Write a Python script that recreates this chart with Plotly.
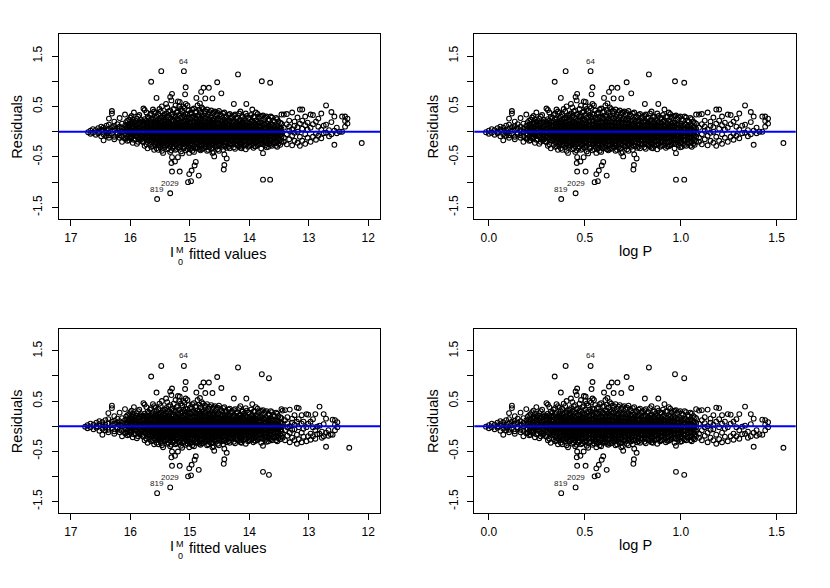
import plotly.graph_objects as go

# ---------------- data ----------------
# dense band, binned in log P columns; residuals shared by both model rows
core_logp = [-0.015, 0.000, 0.015, 0.030, 0.045, 0.060, 0.075, 0.090, 0.105, 0.120,
             0.135, 0.150, 0.165, 0.180, 0.195, 0.210, 0.225, 0.240, 0.255, 0.270,
             0.285, 0.300, 0.315, 0.330, 0.345, 0.360, 0.375, 0.390, 0.405, 0.420,
             0.435, 0.450, 0.465, 0.480, 0.495, 0.510, 0.525, 0.540, 0.555, 0.570,
             0.585, 0.600, 0.615, 0.630, 0.645, 0.660, 0.675, 0.690, 0.705, 0.720,
             0.735, 0.750, 0.765, 0.780, 0.795, 0.810, 0.825, 0.840, 0.855, 0.870,
             0.885, 0.900, 0.915, 0.930, 0.945, 0.960, 0.975, 0.990, 1.005, 1.020,
             1.035, 1.050, 1.065, 1.080]
core_fit_top = [16.71, 16.67, 16.63, 16.58, 16.54, 16.49, 16.45, 16.40, 16.36, 16.31,
                16.27, 16.22, 16.18, 16.14, 16.09, 16.05, 16.00, 15.96, 15.91, 15.87,
                15.82, 15.78, 15.73, 15.69, 15.65, 15.60, 15.56, 15.51, 15.47, 15.42,
                15.38, 15.33, 15.29, 15.24, 15.20, 15.15, 15.11, 15.07, 15.02, 14.98,
                14.93, 14.89, 14.84, 14.80, 14.75, 14.71, 14.67, 14.62, 14.58, 14.53,
                14.49, 14.44, 14.40, 14.35, 14.31, 14.26, 14.22, 14.17, 14.13, 14.09,
                14.04, 14.00, 13.95, 13.91, 13.86, 13.82, 13.77, 13.73, 13.68, 13.64,
                13.60, 13.55, 13.51, 13.46]
core_fit_bot = [16.76, 16.72, 16.67, 16.62, 16.57, 16.52, 16.47, 16.42, 16.37, 16.31,
                16.27, 16.22, 16.18, 16.14, 16.09, 16.05, 16.00, 15.96, 15.91, 15.87,
                15.82, 15.78, 15.73, 15.69, 15.65, 15.60, 15.56, 15.51, 15.47, 15.42,
                15.38, 15.33, 15.29, 15.24, 15.20, 15.15, 15.11, 15.07, 15.02, 14.98,
                14.93, 14.89, 14.84, 14.80, 14.75, 14.71, 14.67, 14.62, 14.58, 14.53,
                14.49, 14.44, 14.40, 14.35, 14.31, 14.26, 14.22, 14.17, 14.13, 14.09,
                14.04, 14.00, 13.95, 13.91, 13.86, 13.82, 13.77, 13.73, 13.68, 13.64,
                13.60, 13.55, 13.51, 13.46]
core_res = [
    [-0.01],
    [0.02, -0.04],
    [0.05, -0.02],
    [-0.06, 0.03],
    [0.07, -0.03, 0.0],
    [-0.09, 0.04, 0.10],
    [-0.17, 0.02, -0.05, 0.08],
    [0.12, -0.08, 0.03, -0.02],
    [0.26, 0.06, -0.07, 0.14, -0.12],
    [0.41, 0.36, 0.09, -0.04, 0.02],
    [0.20, -0.10, 0.05, -0.15, 0.11],
    [0.07, -0.05, 0.15, -0.02],
    [0.27, -0.12, 0.03, 0.10, -0.07],
    [0.16, -0.20, 0.0, 0.06, -0.09],
    [0.34, 0.12, -0.04, -0.14, 0.05],
    [0.22, -0.10, 0.08, 0.0, -0.18, 0.14],
    [0.28, 0.04, -0.08, 0.16, -0.03, -0.13],
    [0.18, -0.22, 0.10, 0.02, -0.06, 0.25],
    [0.12, -0.15, 0.05, -0.02, 0.21, -0.09],
    [0.30, 0.08, -0.12, 0.15, -0.20, 0.01],
    [0.24, -0.05, 0.10, -0.16, 0.03, 0.18, -0.10],
    [0.46, 0.20, 0.0, -0.09, 0.12, -0.21, 0.06],
    [0.38, 0.14, -0.04, 0.08, -0.14, 0.22, -0.25, 0.02],
    [0.10, -0.18, 0.18, 0.04, -0.07, 0.27, -0.12, -0.02],
    [0.36, 0.16, -0.10, 0.06, -0.20, 0.01, 0.24, -0.05, -0.30],
    [0.40, 0.20, 0.10, -0.15, 0.03, -0.07, 0.15, -0.24, 0.0, -0.36],
    [0.30, 0.21, 0.12, 0.06, 0.01, -0.04, -0.09, -0.15, -0.22, -0.33, 0.17],
    [0.45, 0.25, 0.15, 0.08, 0.02, -0.03, -0.08, -0.13, -0.19, -0.27, 0.11],
    [0.50, 0.28, 0.18, 0.10, 0.04, -0.01, -0.06, -0.11, -0.17, -0.24, -0.38],
    [0.33, 0.20, 0.13, 0.07, 0.0, -0.05, -0.10, -0.16, -0.22, -0.30, 0.03],
    [0.48, 0.30, 0.19, 0.11, 0.05, -0.02, -0.07, -0.12, -0.18, -0.26, -0.35, 0.15],
    [0.42, 0.26, 0.16, 0.09, 0.03, -0.03, -0.08, -0.14, -0.21, -0.29, -0.40],
    [0.35, 0.23, 0.14, 0.07, 0.01, -0.04, -0.10, -0.16, -0.23, -0.32, 0.10, -0.01],
    [0.52, 0.30, 0.20, 0.12, 0.05, 0.0, -0.06, -0.11, -0.18, -0.25, -0.36],
    [0.60, 0.40, 0.24, 0.15, 0.08, 0.02, -0.03, -0.09, -0.15, -0.22, -0.31, 0.11],
    [0.45, 0.28, 0.18, 0.10, 0.04, -0.02, -0.07, -0.13, -0.20, -0.28, -0.39],
    [0.50, 0.33, 0.21, 0.13, 0.06, 0.0, -0.05, -0.10, -0.17, -0.24, -0.33, 0.09],
    [0.55, 0.35, 0.23, 0.14, 0.07, 0.01, -0.05, -0.11, -0.18, -0.26, -0.37],
    [0.42, 0.27, 0.17, 0.10, 0.03, -0.03, -0.08, -0.14, -0.21, -0.30, 0.12],
    [0.38, 0.25, 0.16, 0.09, 0.02, -0.04, -0.10, -0.16, -0.23, -0.32, 0.06],
    [0.46, 0.29, 0.19, 0.11, 0.04, -0.02, -0.08, -0.14, -0.20, -0.28, -0.40],
    [0.40, 0.26, 0.17, 0.09, 0.03, -0.03, -0.09, -0.15, -0.22, -0.30, 0.13],
    [0.43, 0.30, 0.20, 0.12, 0.05, -0.01, -0.07, -0.13, -0.19, -0.27, -0.35],
    [0.48, 0.32, 0.21, 0.13, 0.06, 0.0, -0.06, -0.12, -0.18, -0.25, -0.34],
    [0.41, 0.27, 0.18, 0.10, 0.04, -0.02, -0.08, -0.14, -0.20, -0.29, 0.14],
    [0.44, 0.29, 0.19, 0.11, 0.04, -0.02, -0.08, -0.13, -0.19, -0.26, -0.38],
    [0.39, 0.25, 0.16, 0.09, 0.02, -0.03, -0.09, -0.15, -0.22, -0.31, 0.12],
    [0.36, 0.24, 0.15, 0.08, 0.02, -0.04, -0.10, -0.16, -0.23, -0.33, -0.42],
    [0.40, 0.26, 0.17, 0.10, 0.03, -0.03, -0.09, -0.14, -0.20, -0.28],
    [0.37, 0.24, 0.15, 0.08, 0.02, -0.04, -0.10, -0.16, -0.24, -0.35],
    [0.34, 0.22, 0.14, 0.07, 0.01, -0.05, -0.11, -0.17, -0.25, 0.10],
    [0.36, 0.23, 0.14, 0.07, 0.01, -0.05, -0.11, -0.18, -0.27, -0.36],
    [0.30, 0.20, 0.12, 0.06, 0.0, -0.06, -0.12, -0.19, -0.28, 0.09],
    [0.33, 0.21, 0.13, 0.06, 0.0, -0.06, -0.13, -0.21, -0.30],
    [0.28, 0.18, 0.10, 0.04, -0.02, -0.08, -0.15, -0.24, 0.07],
    [0.32, 0.20, 0.11, 0.05, -0.01, -0.07, -0.14, -0.22, -0.31],
    [0.26, 0.16, 0.09, 0.03, -0.03, -0.09, -0.16, -0.25, 0.12],
    [0.36, 0.22, 0.12, 0.05, -0.01, -0.07, -0.13, -0.20, -0.29],
    [0.29, 0.18, 0.10, 0.04, -0.02, -0.08, -0.15, -0.23, -0.33],
    [0.25, 0.15, 0.08, 0.02, -0.04, -0.10, -0.17, -0.26, 0.11],
    [0.31, 0.19, 0.10, 0.03, -0.03, -0.09, -0.16, -0.24],
    [0.27, 0.16, 0.08, 0.02, -0.04, -0.11, -0.19, -0.28, 0.12],
    [0.44, 0.22, 0.12, 0.05, -0.01, -0.07, -0.14, -0.22],
    [0.30, 0.17, 0.09, 0.02, -0.05, -0.12, -0.20, -0.29],
    [0.35, 0.20, 0.10, 0.03, -0.03, -0.10, -0.18, -0.27],
    [0.30, 0.18, 0.08, 0.01, -0.06, -0.14, -0.23, 0.12],
    [0.32, 0.16, 0.07, 0.0, -0.07, -0.15, -0.25],
    [0.28, 0.14, 0.06, -0.01, -0.08, -0.17, -0.27],
    [0.25, 0.12, 0.04, -0.03, -0.10, -0.20, -0.30],
    [0.30, 0.15, 0.06, -0.02, -0.09, -0.18, -0.26],
    [0.22, 0.11, 0.03, -0.04, -0.12, -0.22],
    [0.27, 0.13, 0.05, -0.02, -0.10, -0.19, -0.28],
    [0.20, 0.09, 0.01, -0.06, -0.14, -0.24],
    [0.34, 0.16, 0.06, -0.02, -0.10, -0.20],
]

# second set of band columns, lying between the first ones (same in both models)
core2_logp = [0.2025, 0.2175, 0.2325, 0.2475, 0.2625, 0.2775, 0.2925, 0.3075, 0.3225, 0.3375,
              0.3525, 0.3675, 0.3825, 0.3975, 0.4125, 0.4275, 0.4425, 0.4575, 0.4725, 0.4875,
              0.5025, 0.5175, 0.5325, 0.5475, 0.5625, 0.5775, 0.5925, 0.6075, 0.6225, 0.6375,
              0.6525, 0.6675, 0.6825, 0.6975, 0.7125, 0.7275, 0.7425, 0.7575, 0.7725, 0.7875,
              0.8025, 0.8175, 0.8325, 0.8475, 0.8625, 0.8775, 0.8925, 0.9075, 0.9225, 0.9375,
              0.9525, 0.9675, 0.9825, 0.9975, 1.0125, 1.0275, 1.0425, 1.0575, 1.0725]
core2_fit = [16.07, 16.02, 15.98, 15.94, 15.89, 15.85, 15.80, 15.76, 15.71, 15.67,
             15.62, 15.58, 15.53, 15.49, 15.45, 15.40, 15.36, 15.31, 15.27, 15.22,
             15.18, 15.13, 15.09, 15.04, 15.00, 14.96, 14.91, 14.87, 14.82, 14.78,
             14.73, 14.69, 14.64, 14.60, 14.55, 14.51, 14.46, 14.42, 14.38, 14.33,
             14.29, 14.24, 14.20, 14.15, 14.11, 14.06, 14.02, 13.97, 13.93, 13.89,
             13.84, 13.80, 13.75, 13.71, 13.66, 13.62, 13.57, 13.53, 13.48]
core2_res = [
    [0.19, -0.06, 0.07, -0.13, 0.02],
    [0.10, -0.17, 0.24, -0.01, 0.13],
    [0.31, 0.07, -0.11, 0.0, 0.15, -0.05],
    [0.14, -0.03, 0.20, -0.16, 0.06, 0.38],
    [0.26, 0.04, -0.07, 0.11, -0.24, 0.17],
    [0.09, -0.14, 0.19, -0.04, 0.02, 0.33],
    [0.21, 0.13, -0.08, 0.05, -0.19, -0.01],
    [0.43, 0.16, 0.07, -0.03, -0.12, -0.28, 0.25],
    [0.29, 0.11, 0.02, -0.06, -0.17, 0.19, -0.33],
    [0.21, 0.13, 0.05, -0.01, -0.09, -0.16, -0.26, 0.33],
    [0.44, 0.26, 0.12, 0.04, -0.03, -0.11, -0.19, -0.29],
    [0.37, 0.18, 0.09, 0.02, -0.05, -0.12, -0.20, -0.27, 0.25],
    [0.35, 0.24, 0.165, 0.095, 0.035, -0.015, -0.065, -0.12, -0.185, -0.26, -0.36],
    [0.40, 0.27, 0.19, 0.125, 0.055, 0.005, -0.045, -0.10, -0.165, -0.24, -0.31],
    [0.32, 0.22, 0.155, 0.085, 0.025, -0.025, -0.075, -0.13, -0.195, -0.27, -0.42],
    [0.55, 0.36, 0.25, 0.165, 0.095, 0.035, -0.015, -0.065, -0.125, -0.20, -0.28],
    [0.40, 0.28, 0.20, 0.135, 0.07, 0.015, -0.035, -0.09, -0.155, -0.23, -0.33],
    [0.62, 0.34, 0.21, 0.125, 0.055, -0.005, -0.055, -0.11, -0.175, -0.25, -0.37],
    [0.45, 0.31, 0.22, 0.145, 0.08, 0.025, -0.025, -0.08, -0.14, -0.21, -0.30],
    [0.38, 0.26, 0.175, 0.105, 0.045, -0.005, -0.055, -0.115, -0.18, -0.26, -0.34],
    [0.50, 0.33, 0.23, 0.155, 0.085, 0.025, -0.025, -0.085, -0.15, -0.22, -0.32],
    [0.41, 0.29, 0.195, 0.125, 0.06, 0.005, -0.045, -0.10, -0.165, -0.24, -0.43],
    [0.47, 0.30, 0.205, 0.135, 0.065, 0.015, -0.035, -0.09, -0.155, -0.23, -0.31],
    [0.52, 0.34, 0.22, 0.14, 0.07, 0.015, -0.04, -0.095, -0.16, -0.235, -0.345],
    [0.36, 0.25, 0.17, 0.105, 0.04, -0.01, -0.06, -0.12, -0.185, -0.26, -0.35],
    [0.44, 0.28, 0.185, 0.115, 0.05, -0.005, -0.055, -0.11, -0.175, -0.25, -0.38],
    [0.39, 0.27, 0.18, 0.11, 0.045, -0.01, -0.06, -0.115, -0.18, -0.255, -0.33],
    [0.52, 0.31, 0.205, 0.13, 0.065, 0.01, -0.045, -0.10, -0.16, -0.235, -0.32],
    [0.37, 0.26, 0.175, 0.105, 0.04, -0.015, -0.065, -0.12, -0.185, -0.26, -0.37],
    [0.45, 0.29, 0.19, 0.12, 0.055, 0.0, -0.05, -0.105, -0.17, -0.245, -0.34],
    [0.40, 0.27, 0.18, 0.11, 0.045, -0.01, -0.06, -0.115, -0.18, -0.25, -0.31],
    [0.34, 0.24, 0.165, 0.10, 0.035, -0.015, -0.065, -0.125, -0.19, -0.27, -0.36],
    [0.42, 0.28, 0.185, 0.115, 0.05, -0.005, -0.055, -0.11, -0.175, -0.25, -0.34],
    [0.38, 0.25, 0.17, 0.10, 0.04, -0.01, -0.065, -0.125, -0.19, -0.27, -0.40],
    [0.35, 0.23, 0.155, 0.09, 0.03, -0.02, -0.075, -0.13, -0.20, -0.29],
    [0.41, 0.26, 0.17, 0.10, 0.04, -0.015, -0.07, -0.13, -0.195, -0.27, -0.38],
    [0.31, 0.21, 0.14, 0.08, 0.02, -0.03, -0.085, -0.145, -0.215, -0.30],
    [0.38, 0.24, 0.155, 0.09, 0.03, -0.025, -0.08, -0.14, -0.205, -0.28, -0.45],
    [0.29, 0.20, 0.13, 0.07, 0.015, -0.035, -0.09, -0.15, -0.22, -0.32],
    [0.35, 0.22, 0.14, 0.075, 0.015, -0.04, -0.10, -0.165, -0.24, -0.33],
    [0.30, 0.19, 0.12, 0.06, 0.005, -0.05, -0.11, -0.175, -0.25],
    [0.34, 0.21, 0.13, 0.065, 0.01, -0.045, -0.105, -0.17, -0.24, -0.34],
    [0.28, 0.18, 0.11, 0.05, -0.005, -0.06, -0.12, -0.19, -0.27],
    [0.40, 0.23, 0.14, 0.07, 0.01, -0.045, -0.10, -0.165, -0.235, -0.32],
    [0.30, 0.19, 0.115, 0.05, -0.01, -0.065, -0.125, -0.195, -0.28],
    [0.36, 0.21, 0.125, 0.06, 0.0, -0.055, -0.115, -0.18, -0.26, -0.35],
    [0.27, 0.17, 0.10, 0.04, -0.015, -0.07, -0.135, -0.21, -0.30],
    [0.33, 0.20, 0.12, 0.055, -0.005, -0.06, -0.12, -0.19, -0.27],
    [0.29, 0.18, 0.105, 0.04, -0.02, -0.08, -0.15, -0.23, -0.32],
    [0.38, 0.22, 0.13, 0.06, 0.0, -0.06, -0.13, -0.21, -0.29],
    [0.27, 0.16, 0.09, 0.025, -0.035, -0.10, -0.17, -0.25],
    [0.31, 0.18, 0.10, 0.03, -0.03, -0.09, -0.16, -0.24, -0.33],
    [0.26, 0.14, 0.065, 0.0, -0.065, -0.135, -0.21],
    [0.30, 0.16, 0.075, 0.005, -0.06, -0.13, -0.22, -0.31],
    [0.23, 0.12, 0.045, -0.02, -0.09, -0.16, -0.24],
    [0.28, 0.14, 0.05, -0.015, -0.085, -0.17, -0.28],
    [0.20, 0.10, 0.025, -0.05, -0.13, -0.22],
    [0.25, 0.11, 0.035, -0.035, -0.11, -0.20, -0.30],
    [0.18, 0.08, 0.0, -0.07, -0.16, -0.26],
]

# long-period tail, where the two models differ
tail_logp = [1.095, 1.110, 1.125, 1.140, 1.155, 1.170, 1.185, 1.200, 1.215, 1.230,
             1.245, 1.260, 1.275, 1.290, 1.305, 1.320, 1.335, 1.350, 1.365, 1.380,
             1.395, 1.410, 1.425, 1.440, 1.455]
tail_fit_top = [13.42, 13.37, 13.33, 13.28, 13.24, 13.19, 13.15, 13.11, 13.06, 13.02,
                12.97, 12.93, 12.88, 12.84, 12.79, 12.75, 12.71, 12.66, 12.62, 12.57,
                12.53, 12.48, 12.44, 12.39, 12.35]
tail_fit_bot = [13.44, 13.40, 13.36, 13.32, 13.28, 13.24, 13.20, 13.17, 13.12, 13.09,
                13.04, 13.01, 12.97, 12.93, 12.89, 12.86, 12.82, 12.78, 12.75, 12.71,
                12.67, 12.63, 12.60, 12.56, 12.52]
tail_res_top = [
    [0.34, 0.08, -0.12, -0.20], [0.35, 0.15, -0.05, -0.25], [0.22, 0.02, -0.15, 0.10],
    [0.38, -0.27, 0.05, -0.08], [0.20, -0.18, 0.12, -0.02], [0.28, 0.0, -0.22, 0.09],
    [0.44, 0.16, -0.10, -0.28], [0.44, -0.18, 0.06, 0.22], [0.30, -0.05, 0.13, -0.24],
    [0.18, -0.12, 0.04], [0.34, 0.08, -0.20], [0.33, -0.10, 0.15], [0.20, -0.04, -0.16],
    [0.10, -0.08, 0.26], [0.36, 0.04, -0.13], [0.12, -0.03], [0.52, 0.14, -0.02],
    [0.03, -0.09], [0.39, 0.19, -0.05], [0.30, -0.26, 0.02], [0.08, -0.03], [0.0],
    [0.30, 0.0], [0.30, 0.21, 0.10], [0.16, 0.26],
]
tail_res_bot = [
    [0.31, 0.05, -0.15, -0.23], [0.32, 0.12, -0.08, -0.28], [0.18, -0.02, -0.19, 0.06],
    [0.33, -0.32, 0.0, -0.13], [0.15, -0.23, 0.07, -0.07], [0.22, -0.06, -0.28, 0.03],
    [0.37, 0.09, -0.17, -0.35], [0.36, -0.26, -0.02, 0.14], [0.22, -0.13, 0.05, -0.32],
    [0.09, -0.21, -0.05], [0.24, -0.02, -0.30], [0.23, -0.20, 0.05], [0.09, -0.15, -0.27],
    [-0.02, -0.20, 0.14], [0.24, -0.08, -0.25], [-0.01, -0.16], [0.39, 0.01, -0.15],
    [-0.11, -0.23], [0.24, 0.04, -0.20], [0.15, -0.41, -0.13], [-0.08, -0.19], [-0.16],
    [0.13, -0.17], [0.12, 0.03, -0.08], [-0.02, 0.08],
]

# isolated points
out_logp = [0.530, 0.400, 0.343, 0.375, 0.540, 0.535, 0.452, 0.460, 0.504, 0.718,
            0.742, 0.640, 0.670, 0.626, 0.600, 0.618, 0.650, 0.690, 0.834, 0.970,
            1.018, 0.813, 0.883, 0.377, 0.452, 0.460, 0.504, 0.460, 0.477, 0.458,
            0.494, 0.560, 0.551, 0.568, 0.560, 0.573, 0.596, 0.588, 0.614, 0.756,
            0.753, 0.770, 0.700, 0.975, 1.018, 0.975, 1.535]
out_fit_top = [15.10, 15.48, 15.65, 15.56, 15.07, 15.08, 15.33, 15.30, 15.17, 14.54,
               14.47, 14.77, 14.68, 14.81, 14.89, 14.83, 14.74, 14.62, 14.19, 13.79,
               13.65, 14.26, 14.05, 15.55, 15.33, 15.30, 15.17, 15.30, 15.25, 15.31,
               15.20, 15.01, 15.03, 14.98, 15.01, 14.97, 14.90, 14.92, 14.85, 14.42,
               14.43, 14.38, 14.59, 13.77, 13.65, 13.77, 12.11]
out_fit_bot = [15.10, 15.48, 15.65, 15.56, 15.07, 15.08, 15.33, 15.30, 15.17, 14.54,
               14.47, 14.77, 14.68, 14.81, 14.89, 14.83, 14.74, 14.62, 14.19, 13.79,
               13.67, 14.26, 14.05, 15.55, 15.33, 15.30, 15.17, 15.30, 15.25, 15.31,
               15.20, 15.01, 15.03, 14.98, 15.01, 14.97, 14.90, 14.92, 14.85, 14.42,
               14.43, 14.38, 14.59, 13.77, 13.67, 13.77, 12.32]
out_res_top = [1.20, 1.20, 0.99, 0.67, 0.88, 0.74, 0.69, 0.75, 0.59, 0.98,
               0.76, 0.87, 0.87, 0.79, 0.67, 0.56, 0.66, 0.66, 1.135, 1.00,
               0.97, 0.55, 0.55, -1.335, -1.22, -0.79, -0.79, -0.505, -0.59, -0.62,
               -0.505, -0.42, -1.00, -0.98, -0.84, -0.77, -0.60, -0.67, -0.87, -0.66,
               -0.75, -0.53, -0.49, -0.95, -0.95, -0.425, -0.225]
out_res_bot = [1.20, 1.20, 0.99, 0.67, 0.88, 0.74, 0.69, 0.75, 0.59, 0.98,
               0.76, 0.87, 0.87, 0.79, 0.67, 0.56, 0.66, 0.66, 1.17, 1.035,
               0.956, 0.55, 0.55, -1.335, -1.22, -0.79, -0.79, -0.505, -0.59, -0.62,
               -0.505, -0.42, -1.00, -0.98, -0.84, -0.77, -0.60, -0.67, -0.87, -0.66,
               -0.75, -0.53, -0.49, -0.91, -0.97, -0.39, -0.43]

label_text = ["64", "819", "2029"]
label_idx = [0, 23, 24]

x_ticks_fit = [17, 16, 15, 14, 13, 12]
x_ticks_logp = [0.0, 0.5, 1.0, 1.5]
y_ticks = [-1.5, -1.0, -0.5, 0.0, 0.5, 1.0, 1.5]
y_ticktext = ["-1.5", "", "-0.5", "", "0.5", "", "1.5"]


# ---------------- helpers ----------------
def flat(xcols, rcols):
    xs, ys = [], []
    for x, rs in zip(xcols, rcols):
        for r in rs:
            xs.append(x)
            ys.append(r)
    return xs, ys


def panel_points(x_core, x_core2, x_tail, x_out, r_tail, r_out):
    xa, ya = flat(x_core, core_res)
    xc, yc = flat(x_core2, core2_res)
    xb, yb = flat(x_tail, r_tail)
    return xa + xc + xb + list(x_out), ya + yc + yb + list(r_out)


panels = [
    panel_points(core_fit_top, core2_fit, tail_fit_top, out_fit_top, tail_res_top, out_res_top),
    panel_points(core_logp, core2_logp, tail_logp, out_logp, tail_res_top, out_res_top),
    panel_points(core_fit_bot, core2_fit, tail_fit_bot, out_fit_bot, tail_res_bot, out_res_bot),
    panel_points(core_logp, core2_logp, tail_logp, out_logp, tail_res_bot, out_res_bot),
]
label_x = [out_fit_top, out_logp, out_fit_bot, out_logp]
label_y = [out_res_top, out_res_top, out_res_bot, out_res_bot]

FONT = "Liberation Sans, Arial, Helvetica, sans-serif"

# page geometry: the page body has an 8px margin, so the figure is placed inside it
OFF = 8
FW, FH = 830 - 2 * OFF, 588 - 2 * OFF


def px(x):
    return (x - OFF) / FW


def py(y):
    return 1 - (y - OFF) / FH


fig = go.Figure()
for i, (xs, ys) in enumerate(panels):
    sfx = "" if i == 0 else str(i + 1)
    fig.add_trace(go.Scatter(
        x=xs, y=ys, mode="markers", xaxis="x" + sfx, yaxis="y" + sfx,
        marker=dict(symbol="circle-open", size=4.8, color="black",
                    line=dict(width=1.1, color="black")),
        hoverinfo="skip", showlegend=False))

# frame geometry in window pixels
left_x = (58.5, 380.0)
right_x = (474.3, 795.7)
top_y = (34.0, 219.3)
bot_y = (329.0, 513.3)


def xdom(a):
    return [px(a[0]), px(a[1])]


def ydom(b):
    return [py(b[1]), py(b[0])]


common_axis = dict(showline=True, mirror=True, linecolor="black", linewidth=1,
                   ticks="outside", ticklen=6, tickwidth=1, tickcolor="black",
                   showgrid=False, zeroline=False,
                   tickfont=dict(family=FONT, size=12, color="black"))

yaxis_cfg = dict(common_axis, range=[-1.736, 1.936], tickvals=y_ticks,
                 ticktext=y_ticktext, tickangle=-90, ticklabelstandoff=5)

fit_axis = dict(common_axis, range=[17.208, 11.803], tickvals=x_ticks_fit,
                ticktext=[str(v) for v in x_ticks_fit], ticklabelstandoff=1)
logp_axis = dict(common_axis, range=[-0.076, 1.599], tickvals=x_ticks_logp,
                 ticktext=["%.1f" % v for v in x_ticks_logp], ticklabelstandoff=1)

layout = dict(width=FW, height=FH, margin=dict(l=0, r=0, t=0, b=0),
              paper_bgcolor="white", plot_bgcolor="white",
              font=dict(family=FONT, color="black"))
geo = [(left_x, top_y, fit_axis), (right_x, top_y, logp_axis),
       (left_x, bot_y, fit_axis), (right_x, bot_y, logp_axis)]
for i, (gx, gy, xcfg) in enumerate(geo):
    sfx = "" if i == 0 else str(i + 1)
    layout["xaxis" + sfx] = dict(xcfg, domain=xdom(gx), anchor="y" + sfx)
    layout["yaxis" + sfx] = dict(yaxis_cfg, domain=ydom(gy), anchor="x" + sfx)
fig.update_layout(**layout)

# zero reference lines
for i in range(4):
    sfx = "" if i == 0 else str(i + 1)
    fig.add_shape(type="line", xref="x" + sfx + " domain", yref="y" + sfx,
                  x0=0, x1=1, y0=0, y1=0, line=dict(color="#0000ff", width=2))

# point labels
for i in range(4):
    sfx = "" if i == 0 else str(i + 1)
    for t, k in zip(label_text, label_idx):
        fig.add_annotation(x=label_x[i][k], y=label_y[i][k], xref="x" + sfx, yref="y" + sfx,
                           text=t, showarrow=False, yshift=10, xanchor="center",
                           yanchor="middle", font=dict(family=FONT, size=8, color="#222222"))

# axis titles
TF = dict(family=FONT, size=14.5, color="black")
SF = dict(family=FONT, size=9, color="black")
for gx, gy in [(left_x, top_y), (right_x, top_y), (left_x, bot_y), (right_x, bot_y)]:
    cy = (gy[0] + gy[1]) / 2
    fig.add_annotation(x=px(gx[0] - 41.5), y=py(cy), xref="paper", yref="paper",
                       text="Residuals", textangle=-90, showarrow=False,
                       xanchor="center", yanchor="middle", font=TF)
for gy in [top_y, bot_y]:
    b = gy[1]
    fig.add_annotation(x=px((right_x[0] + right_x[1]) / 2), y=py(b + 32), xref="paper",
                       yref="paper", text="log P", showarrow=False, xanchor="center",
                       yanchor="middle", font=TF)
    # I_0^M fitted values
    fig.add_annotation(x=px(172), y=py(b + 33), xref="paper", yref="paper", text="I",
                       showarrow=False, xanchor="center", yanchor="middle", font=TF)
    fig.add_annotation(x=px(180), y=py(b + 30.5), xref="paper", yref="paper", text="M",
                       showarrow=False, xanchor="center", yanchor="middle", font=SF)
    fig.add_annotation(x=px(180), y=py(b + 42.5), xref="paper", yref="paper", text="0",
                       showarrow=False, xanchor="center", yanchor="middle", font=SF)
    fig.add_annotation(x=px(186.5), y=py(b + 35), xref="paper", yref="paper",
                       text="fitted values", showarrow=False, xanchor="left",
                       yanchor="middle", font=TF)

fig.write_html("out.html")
